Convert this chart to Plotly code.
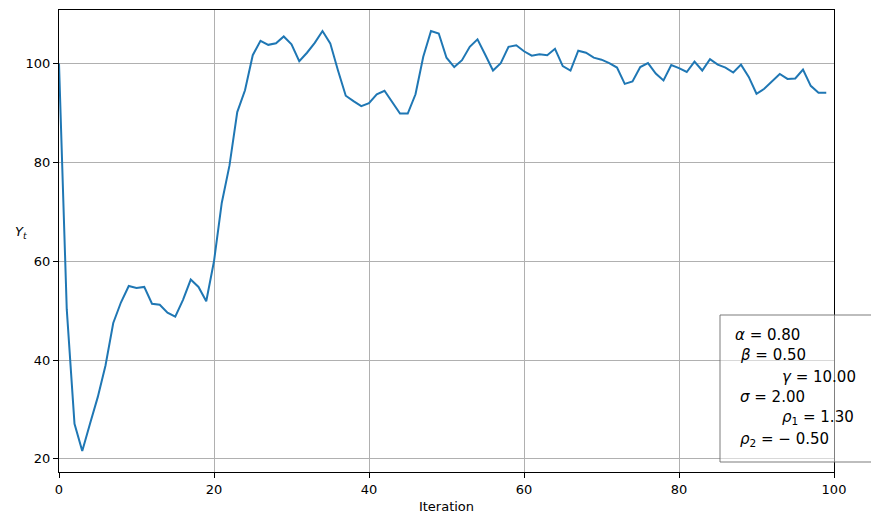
import plotly.graph_objects as go

iterations = list(range(100))
y_values = [
    100.0, 50.3, 27.1, 21.6, 27.1, 32.5, 38.9, 47.5, 51.7, 55.0,
    54.6, 54.8, 51.4, 51.2, 49.6, 48.8, 52.2, 56.3, 54.8, 51.9,
    60.0, 71.8, 79.4, 90.2, 94.6, 101.7, 104.6, 103.8, 104.1, 105.5,
    103.9, 100.5, 102.2, 104.2, 106.6, 104.1, 98.6, 93.5, 92.4, 91.4,
    92.0, 93.8, 94.5, 92.2, 89.9, 89.9, 93.8, 101.4, 106.6, 106.1,
    101.2, 99.3, 100.7, 103.4, 104.9, 101.8, 98.6, 100.1, 103.4, 103.7,
    102.5, 101.6, 101.9, 101.7, 103.0, 99.5, 98.6, 102.6, 102.2, 101.2,
    100.8, 100.1, 99.2, 95.9, 96.4, 99.3, 100.1, 98.0, 96.6, 99.7,
    99.1, 98.3, 100.4, 98.6, 100.9, 99.8, 99.2, 98.2, 99.8, 97.3,
    93.9, 94.9, 96.4, 97.9, 96.9, 97.0, 98.8, 95.5, 94.1, 94.1,
]
x_ticks = [0, 20, 40, 60, 80, 100]
y_ticks = [20, 40, 60, 80, 100]
param_lines = [
    ("<i>α</i> = 0.80", 733, 335),
    ("<i>β</i> = 0.50", 738, 355),
    ("<i>γ</i> = 10.00", 780, 377),
    ("<i>σ</i> = 2.00", 738, 397),
    ("<i>ρ</i><sub>1</sub> = 1.30", 780, 417),
    ("<i>ρ</i><sub>2</sub> = − 0.50", 738, 439),
]

W, H = 871, 525
L, R, T, B = 59, 834, 10, 472
pw, ph = R - L, B - T

def px(x):
    return (x - L) / pw

def py(y):
    return (B - y) / ph

fig = go.Figure()
fig.add_trace(go.Scatter(x=iterations, y=y_values, mode="lines",
                         line=dict(color="#1f77b4", width=2), showlegend=False))

axis_common = dict(showline=True, mirror=True, linecolor="black", linewidth=1,
                   ticks="outside", ticklen=5, tickwidth=1, tickcolor="black",
                   showgrid=True, gridcolor="#b0b0b0", gridwidth=1, zeroline=False,
                   tickfont=dict(family="DejaVu Sans", size=13, color="black"))

fig.update_xaxes(range=[0, 100], tickvals=x_ticks,
                 title=dict(text="Iteration", font=dict(family="DejaVu Sans", size=13, color="black"), standoff=6),
                 **axis_common)
fig.update_yaxes(range=[17.35, 110.85], tickvals=y_ticks, **axis_common)

fig.add_annotation(text="<i>Y</i><sub><i>t</i></sub>", xref="paper", yref="paper",
                   x=px(13), y=py(232), showarrow=False,
                   font=dict(family="DejaVu Sans", size=13, color="black"))

fig.add_shape(type="rect", xref="paper", yref="paper",
              x0=px(720), x1=px(880), y0=py(462), y1=py(315),
              fillcolor="rgba(255,255,255,0.5)", line=dict(color="rgba(110,110,110,0.9)", width=1),
              layer="above")

for txt, xx, yy in param_lines:
    fig.add_annotation(text=txt, xref="paper", yref="paper", x=px(xx), y=py(yy),
                       xanchor="left", yanchor="middle", showarrow=False,
                       font=dict(family="DejaVu Sans", size=15, color="black"))

fig.update_layout(width=W, height=H, margin=dict(l=L, r=W - R, t=T, b=H - B),
                  plot_bgcolor="white", paper_bgcolor="white")

fig.write_html("out.html", config={"displayModeBar": False},
               post_script="document.body.style.margin='0';document.body.style.overflow='hidden';")
